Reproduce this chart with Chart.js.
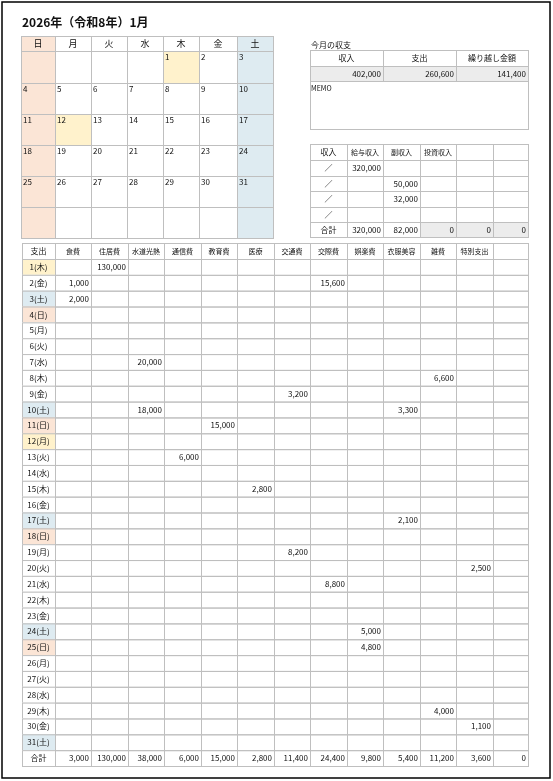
<!DOCTYPE html>
<html><head><meta charset="utf-8">
<script src="https://cdn.jsdelivr.net/npm/chart.js@4/dist/chart.umd.min.js"></script>
<style>body{margin:0;background:#fff}canvas{display:block}</style>
</head><body>
<canvas id="sheet" width="553" height="781"></canvas>
<script>
// 2026年1月 家計簿
const title = '2026年（令和8年）1月';
const weekdays = ['日', '月', '火', '水', '木', '金', '土'];
const firstWeekday = 4; // 1日は木曜
const daysInMonth = 31;
const holidays = [1, 12];

const summaryHeaders = ['収入', '支出', '繰り越し金額'];
const summaryValues = [402000, 260600, 141400];

const incomeHeaders = ['収入', '給与収入', '副収入', '投資収入', '', ''];
const incomeRows = [
  [320000, null, null, null, null],
  [null, 50000, null, null, null],
  [null, 32000, null, null, null],
  [null, null, null, null, null]
];
const incomeTotals = [320000, 82000, 0, 0, 0];

const expenseCategories = ['食費', '住居費', '水道光熱', '通信費', '教育費', '医療', '交通費', '交際費', '娯楽費', '衣服美容', '雑費', '特別支出', ''];
// [日, 費目番号, 金額]
const expenseEntries = [
  [1, 1, 130000], [2, 0, 1000], [2, 7, 15600], [3, 0, 2000], [7, 2, 20000],
  [8, 10, 6600], [9, 6, 3200], [10, 2, 18000], [10, 9, 3300], [11, 4, 15000],
  [13, 3, 6000], [15, 5, 2800], [17, 9, 2100], [19, 6, 8200], [20, 11, 2500],
  [21, 7, 8800], [24, 8, 5000], [25, 8, 4800], [29, 10, 4000], [30, 11, 1100]
];
const expenseTotals = [3000, 130000, 38000, 6000, 15000, 2800, 11400, 24400, 9800, 5400, 11200, 3600, 0];

const fmt = v => v.toLocaleString('en-US');
const FONT = '"Noto Sans CJK JP", sans-serif';
const SUN = '#fbe5d6', SAT = '#deebf1', HOL = '#fff2cc', GRAY = '#ececec', LINE = '#bfbfbf';

const sheetPlugin = {
  id: 'sheet',
  afterDraw(chart) {
    const c = chart.ctx, xs = chart.scales.x, ys = chart.scales.y;
    const X = v => xs.getPixelForValue(v), Y = v => ys.getPixelForValue(v);
    const rect = (x0, y0, x1, y1, fill) => {
      if (fill) { c.fillStyle = fill; c.fillRect(X(x0), Y(y0), X(x1) - X(x0), Y(y1) - Y(y0)); }
      c.strokeStyle = LINE; c.lineWidth = 1;
      c.strokeRect(X(x0) + 0.5, Y(y0) + 0.5, X(x1) - X(x0), Y(y1) - Y(y0));
    };
    const text = (s, x, y, align, size, bold) => {
      c.fillStyle = '#111'; c.textAlign = align || 'left'; c.textBaseline = 'middle';
      c.font = (bold ? 'bold ' : '') + (size || 8) + 'px ' + FONT;
      c.fillText(s, X(x), Y(y));
    };
    c.save();
    // 外枠
    c.strokeStyle = '#000'; c.lineWidth = 1.5;
    c.strokeRect(X(2), Y(2), X(550) - X(2), Y(778) - Y(2));
    text(title, 22, 22, 'left', 12, true);

    // カレンダー
    const calX = [21, 55, 91, 127, 163, 199, 237, 273];
    const calY = [36, 51, 83, 114, 145, 176, 207, 238];
    weekdays.forEach((w, i) => {
      rect(calX[i], calY[0], calX[i + 1], calY[1], i === 0 ? SUN : i === 6 ? SAT : '#fff');
      text(w, (calX[i] + calX[i + 1]) / 2, 44, 'center', 9);
    });
    for (let r = 0; r < 6; r++) {
      for (let i = 0; i < 7; i++) {
        const d = r * 7 + i - firstWeekday + 1;
        let fill = i === 0 ? SUN : i === 6 ? SAT : '#fff';
        if (holidays.includes(d)) fill = HOL;
        rect(calX[i], calY[r + 1], calX[i + 1], calY[r + 2], fill);
        if (d >= 1 && d <= daysInMonth) text(String(d), calX[i] + 2, calY[r + 1] + 6, 'left', 8);
      }
    }

    // 今月の収支
    text('今月の収支', 311, 45, 'left', 8);
    const sx = [310, 383, 456, 528];
    summaryHeaders.forEach((h, i) => {
      rect(sx[i], 50, sx[i + 1], 66, '#fff');
      text(h, (sx[i] + sx[i + 1]) / 2, 58, 'center', 8);
      rect(sx[i], 66, sx[i + 1], 81, GRAY);
      text(fmt(summaryValues[i]), sx[i + 1] - 2, 74, 'right', 8);
    });
    rect(310, 81, 528, 129, '#fff');
    text('MEMO', 311, 88, 'left', 7);

    // 収入表
    const ix = [310, 347, 383, 420, 456, 493, 528];
    const iy = [144, 160, 176, 191, 207, 222, 237];
    incomeHeaders.forEach((h, i) => {
      rect(ix[i], iy[0], ix[i + 1], iy[1], '#fff');
      text(h, (ix[i] + ix[i + 1]) / 2, 152, 'center', i === 0 ? 8 : 7);
    });
    incomeRows.forEach((row, r) => {
      rect(ix[0], iy[r + 1], ix[1], iy[r + 2], '#fff');
      text('／', (ix[0] + ix[1]) / 2, (iy[r + 1] + iy[r + 2]) / 2, 'center', 8);
      row.forEach((v, i) => {
        rect(ix[i + 1], iy[r + 1], ix[i + 2], iy[r + 2], '#fff');
        if (v !== null) text(fmt(v), ix[i + 2] - 2, (iy[r + 1] + iy[r + 2]) / 2, 'right', 8);
      });
    });
    rect(ix[0], iy[5], ix[1], iy[6], '#fff');
    text('合計', (ix[0] + ix[1]) / 2, 230, 'center', 8);
    incomeTotals.forEach((v, i) => {
      rect(ix[i + 1], iy[5], ix[i + 2], iy[6], i < 2 ? '#fff' : GRAY);
      text(fmt(v), ix[i + 2] - 2, 230, 'right', 8);
    });

    // 支出表
    const ex = [22, 55, 91, 128, 164, 201, 237, 274, 310, 347, 383, 420, 456, 493, 528];
    const top = 243, head = 259, rowH = (766 - head) / (daysInMonth + 1);
    rect(ex[0], top, ex[1], head, '#fff');
    text('支出', (ex[0] + ex[1]) / 2, 251, 'center', 8);
    expenseCategories.forEach((h, i) => {
      rect(ex[i + 1], top, ex[i + 2], head, '#fff');
      text(h, (ex[i + 1] + ex[i + 2]) / 2, 251, 'center', 7);
    });
    for (let d = 1; d <= daysInMonth + 1; d++) {
      const y0 = head + (d - 1) * rowH, y1 = y0 + rowH, ym = (y0 + y1) / 2;
      const wd = (firstWeekday + d - 1) % 7;
      let fill = '#fff';
      if (d <= daysInMonth) {
        if (wd === 0) fill = SUN; else if (wd === 6) fill = SAT;
        if (holidays.includes(d)) fill = HOL;
      }
      rect(ex[0], y0, ex[1], y1, fill);
      text(d <= daysInMonth ? d + '(' + weekdays[wd] + ')' : '合計', (ex[0] + ex[1]) / 2, ym, 'center', 8);
      for (let i = 0; i < expenseCategories.length; i++) rect(ex[i + 1], y0, ex[i + 2], y1, null);
      if (d > daysInMonth) expenseTotals.forEach((v, i) => text(fmt(v), ex[i + 2] - 2, ym, 'right', 8));
    }
    expenseEntries.forEach(([d, i, v]) => {
      const ym = head + (d - 0.5) * rowH;
      text(fmt(v), ex[i + 2] - 2, ym, 'right', 8);
    });
    c.restore();
  }
};

new Chart(document.getElementById('sheet').getContext('2d'), {
  type: 'scatter',
  data: { datasets: [{ data: [], pointRadius: 0 }] },
  options: {
    responsive: false,
    animation: false,
    layout: { padding: 0 },
    plugins: { legend: { display: false }, tooltip: { enabled: false } },
    scales: {
      x: { type: 'linear', min: 0, max: 553, display: false },
      y: { type: 'linear', min: 0, max: 781, reverse: true, display: false }
    }
  },
  plugins: [sheetPlugin]
});
</script>
</body></html>
